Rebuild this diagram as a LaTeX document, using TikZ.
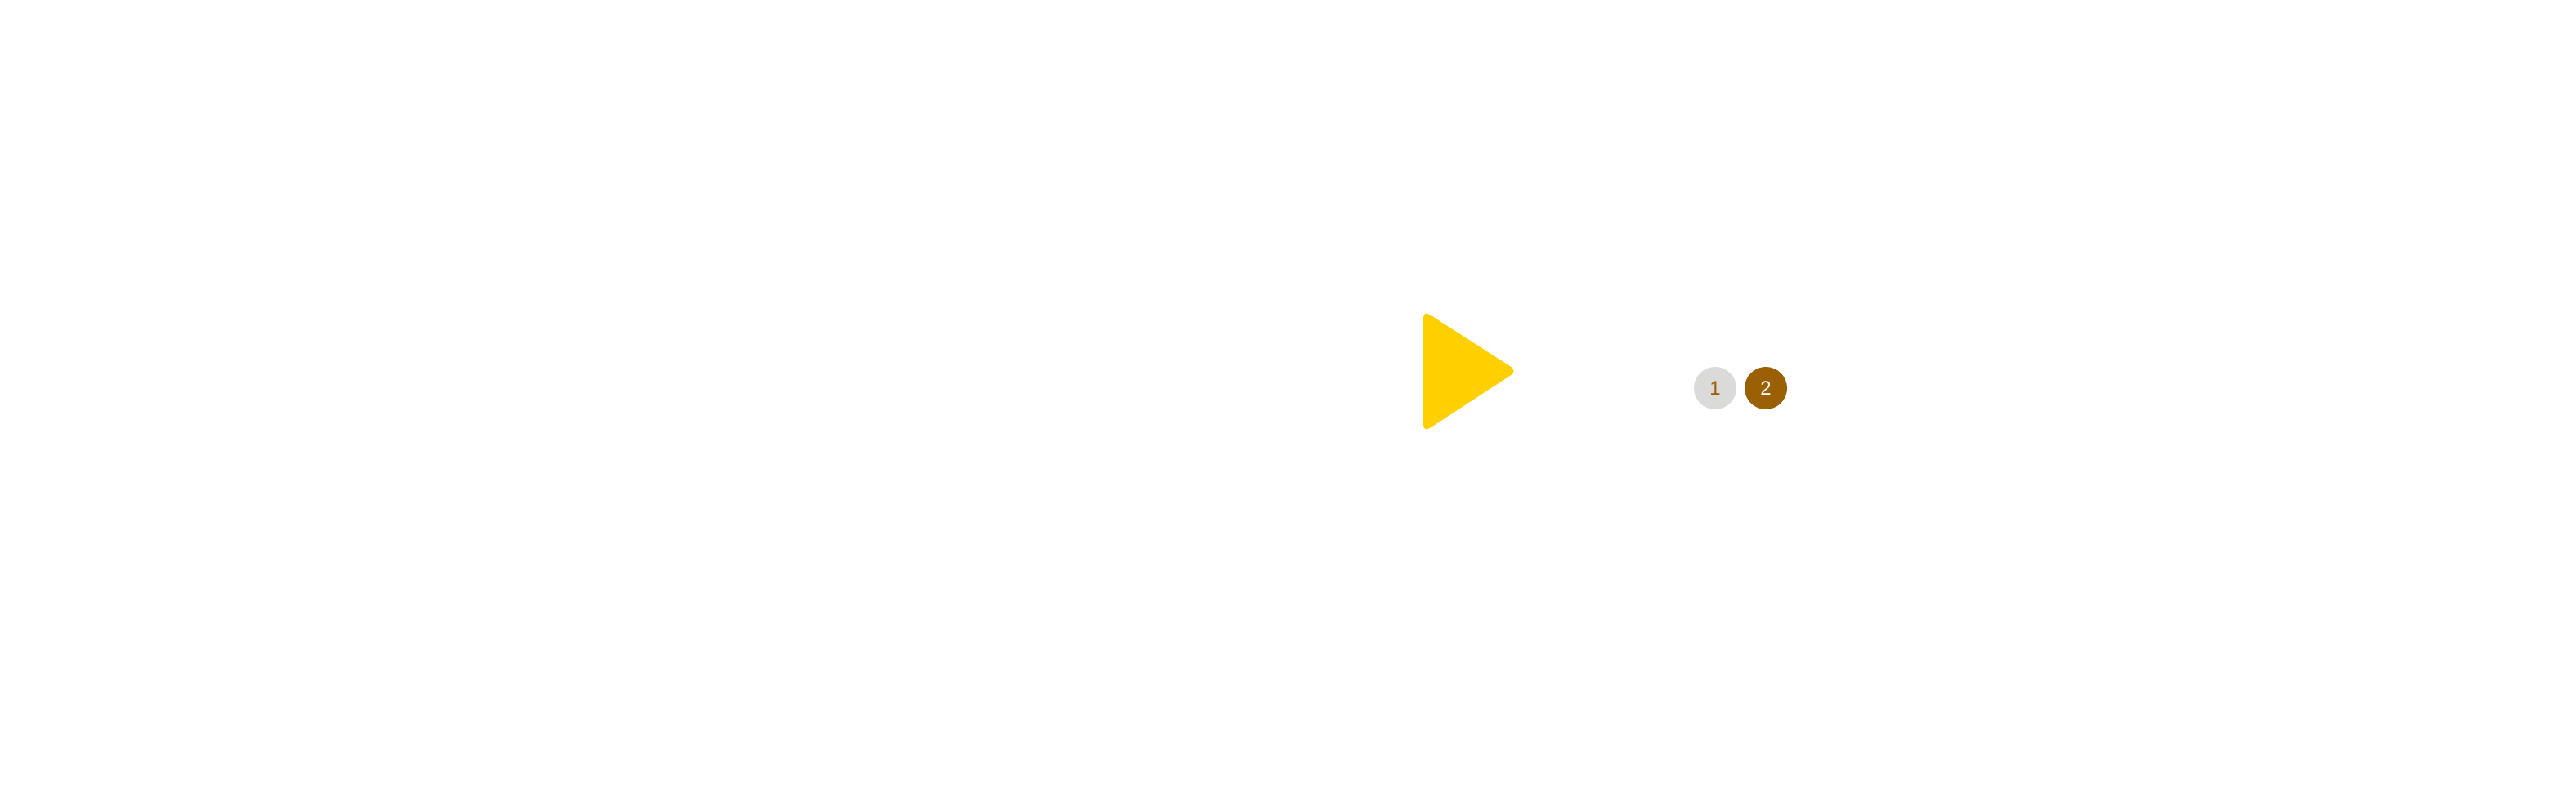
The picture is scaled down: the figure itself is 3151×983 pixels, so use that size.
\documentclass[tikz,border=0pt]{standalone}
\usepackage{fontspec}
\setmainfont{Liberation Sans}
\begin{document}
\begin{tikzpicture}[x=1pt,y=-1pt,
  badge/.style={circle,minimum size=52pt,inner sep=0pt,font=\fontsize{24}{24}\selectfont}]
\useasboundingbox (0,0) rectangle (3151,983);
\definecolor{play}{HTML}{FFD000}
\definecolor{grayc}{HTML}{DADAD8}
\definecolor{brownc}{HTML}{9C6004}
\fill[play,rounded corners=9pt] (1741,380) -- (1856,454) -- (1741,529) -- cycle;
\node[badge,fill=grayc,text=brownc] (b1) at (2098,475) {1};
\node[badge,fill=brownc,text=white] (b2) at (2160,475) {2};
\end{tikzpicture}
\end{document}
